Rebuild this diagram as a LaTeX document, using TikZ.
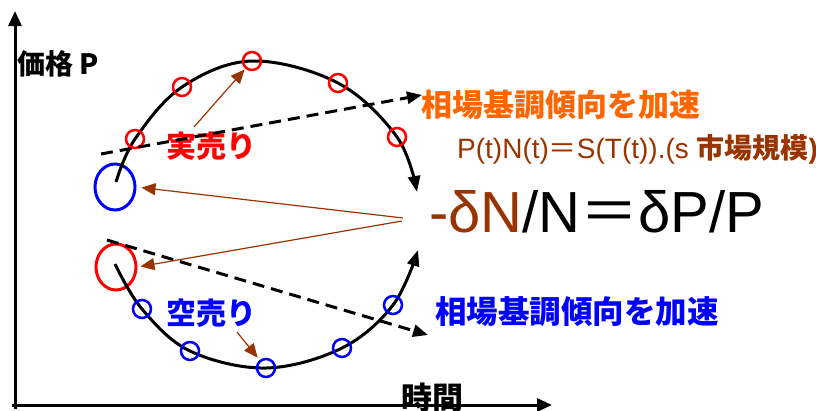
\documentclass[tikz,border=0pt]{standalone}
\usepackage{fontspec}
\setmainfont{Liberation Sans}
\newfontfamily\jp{Noto Sans CJK JP}
\usetikzlibrary{arrows.meta,shapes.geometric}
\definecolor{brn}{HTML}{993300}
\definecolor{org}{HTML}{FF6600}
\definecolor{rd}{HTML}{FF0000}
\definecolor{bl}{HTML}{0000FF}
\newcommand\setfs[1]{\fontsize{#1}{#1}\selectfont}
\tikzset{
  axis/.style={line width=3pt,-{Triangle[length=15pt,width=13pt]}},
  cycle/.style={line width=3pt,-{Triangle[length=16pt,width=12pt]}},
  trend/.style={line width=3pt,dash pattern=on 12pt off 7pt,-{Triangle[length=15pt,width=12pt]}},
  pointer/.style={brn,line width=1.2pt,-{Triangle[length=14pt,width=12pt]}},
  dot/.style={circle,draw,line width=2.5pt,minimum size=18pt,inner sep=0pt},
  turn/.style={ellipse,draw,line width=3pt,minimum width=40pt,minimum height=46pt,inner sep=0pt},
  lbl/.style={inner sep=0pt,anchor=west},
}
\begin{document}
\begin{tikzpicture}[x=1pt,y=-1pt]
\useasboundingbox (0,0) rectangle (816,410);

% axes
\coordinate (o) at (15,405);
\coordinate (ytop) at (15,11);
\coordinate (xend) at (552,405);
\draw[axis] (15,409) -- (ytop);
\draw[axis] (12,405) -- (xend);
\node[lbl] (ylab) at (17,64) {\setfs{28}\jp\bfseries 価格 P};
\node[lbl] (xlab) at (401,398) {\setfs{31}\jp\bfseries 時間};

% turning points
\node[turn,draw=bl] (peak) at (115,187) {};
\node[turn,draw=rd] (trough) at (116,267) {};

% rising/falling cycle
\draw[cycle] plot[smooth,tension=0.6] coordinates
  {(116,182) (135,139) (182,87) (252,61) (338,83) (397,137) (417,192)};
\draw[cycle] plot[smooth,tension=0.6] coordinates
  {(115,264) (142,309) (190,351) (266,368) (342,348) (393,305) (418,250)};

% sell points on the upper arc
\node[dot,draw=rd] (r1) at (135,139) {};
\node[dot,draw=rd] (r2) at (182,87) {};
\node[dot,draw=rd] (r3) at (252,61) {};
\node[dot,draw=rd] (r4) at (338,83) {};
\node[dot,draw=rd] (r5) at (397,137) {};
% short-sell points on the lower arc
\node[dot,draw=bl] (b1) at (142,309) {};
\node[dot,draw=bl] (b2) at (190,351) {};
\node[dot,draw=bl] (b3) at (266,368) {};
\node[dot,draw=bl] (b4) at (342,348) {};
\node[dot,draw=bl] (b5) at (393,305) {};

% labels
\node[lbl,text=rd] (sell) at (166,146) {\setfs{30}\jp\bfseries 実売り};
\node[lbl,text=bl] (short) at (166,313) {\setfs{30}\jp\bfseries 空売り};
\node[lbl,text=org] (upnote) at (421,105) {\setfs{31}\jp\bfseries 相場基調傾向を加速};
\node[lbl,text=bl] (dnnote) at (435,312) {\setfs{31.5}\jp\bfseries 相場基調傾向を加速};
\node[inner sep=0pt,anchor=base west,text=brn] (law) at (457,158)
  {\setfs{28}P(t)N(t){\jp ＝}S(T(t)).(s {\jp\bfseries 市場規模}\textbf{)}};
\node[inner sep=0pt,anchor=base west] (eq) at (429,232)
  {\setfs{58}{\color{brn}-δN}/N{\jp ＝}δP/P};

% trend lines
\coordinate (u0) at (101,154);
\coordinate (u1) at (422,95);
\coordinate (d0) at (107,240);
\coordinate (d1) at (428,335);
\draw[trend] (u0) -- (u1);
\draw[trend] (d0) -- (d1);

% pointers
\coordinate (s0) at (194,127);
\coordinate (k0) at (237,332);
\coordinate (e1) at (403,218);
\coordinate (e2) at (402,221);
\draw[pointer,shorten >=1pt] (s0) -- (r3);
\draw[pointer,shorten >=3pt] (k0) -- (b3);
\draw[pointer,shorten >=5pt] (e1) -- (peak.east);
\draw[pointer,shorten >=3pt] (e2) -- (trough.east);
\end{tikzpicture}
\end{document}
